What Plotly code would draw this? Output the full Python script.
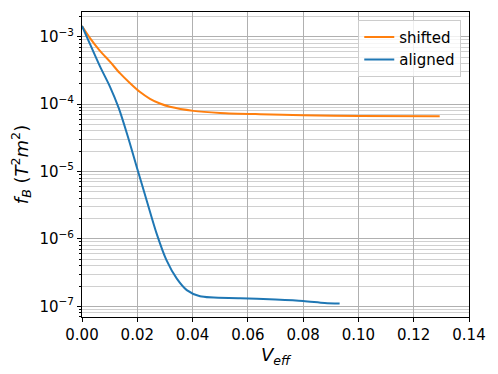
import plotly.graph_objects as go

shifted_x = [0, 0.0029, 0.0065, 0.0101, 0.0137, 0.0174, 0.0210, 0.0246, 0.0282, 0.0318,
             0.0403, 0.050, 0.0644, 0.080, 0.100, 0.1294]
shifted_y = [1.445e-3, 9.55e-4, 6.17e-4, 4.27e-4, 2.88e-4, 2.04e-4, 1.51e-4, 1.20e-4, 1.02e-4,
             9.12e-5, 7.94e-5, 7.41e-5, 7.08e-5, 6.84e-5, 6.68e-5, 6.6e-5]

aligned_x = [0, 0.0029, 0.0065, 0.0101, 0.0133, 0.0165, 0.0198, 0.0234, 0.0270, 0.0306,
             0.0343, 0.0379, 0.0427, 0.0572, 0.070, 0.080, 0.0878, 0.0932]
aligned_y = [1.445e-3, 7.76e-4, 3.63e-4, 1.82e-4, 8.71e-5, 3.39e-5, 1.17e-5, 3.72e-6, 1.20e-6,
             4.79e-7, 2.57e-7, 1.74e-7, 1.41e-7, 1.32e-7, 1.26e-7, 1.20e-7, 1.12e-7, 1.10e-7]

x_ticks = [0, 0.02, 0.04, 0.06, 0.08, 0.10, 0.12, 0.14]
x_ticklabels = ["0.00", "0.02", "0.04", "0.06", "0.08", "0.10", "0.12", "0.14"]
y_ticks = [1e-7, 1e-6, 1e-5, 1e-4, 1e-3]
y_ticklabels = ["10<sup>\u22127</sup>", "10<sup>\u22126</sup>", "10<sup>\u22125</sup>",
                "10<sup>\u22124</sup>", "10<sup>\u22123</sup>"]

fig = go.Figure()
fig.add_trace(go.Scatter(x=shifted_x, y=shifted_y, mode="lines", name="shifted",
                         line=dict(color="#ff7f0e", width=2, shape="spline", smoothing=0.8)))
fig.add_trace(go.Scatter(x=aligned_x, y=aligned_y, mode="lines", name="aligned",
                         line=dict(color="#1f77b4", width=2, shape="spline", smoothing=0.8)))

font = "DejaVu Sans"
fig.update_layout(
    width=490, height=366,
    margin=dict(l=74, r=29, t=4, b=57),
    paper_bgcolor="white", plot_bgcolor="white",
    font=dict(family=font, size=15, color="black"),
    legend=dict(x=0.98, y=0.975, xanchor="right", yanchor="top",
                bgcolor="rgba(255,255,255,0.8)", bordercolor="#cccccc", borderwidth=1,
                font=dict(size=15)),
    xaxis=dict(range=[0, 0.14], tickvals=x_ticks, ticktext=x_ticklabels, automargin=False,
               showgrid=True, gridcolor="#b0b0b0", gridwidth=1,
               showline=True, linecolor="black", linewidth=1, mirror=True,
               ticks="outside", ticklen=4, tickcolor="black", zeroline=False,
               title=dict(text="<i>V</i><sub><i>eff</i></sub>", font=dict(size=18), standoff=4)),
    yaxis=dict(type="log", range=[-7.159, -2.633], tickvals=y_ticks, ticktext=y_ticklabels,
               automargin=False,
               showgrid=True, gridcolor="#b0b0b0", gridwidth=1,
               showline=True, linecolor="black", linewidth=1, mirror=True,
               ticks="outside", ticklen=4, tickcolor="black", zeroline=False,
               minor=dict(ticks="outside", ticklen=2, tickcolor="black", showgrid=True,
                          gridcolor="#d0d0d0", dtick="D1"),
               title=dict(text="<i>f</i><sub><i>B</i></sub> (<i>T</i><sup>2</sup><i>m</i><sup>2</sup>)",
                          font=dict(size=18), standoff=8)),
)
fig.write_html("out.html")
